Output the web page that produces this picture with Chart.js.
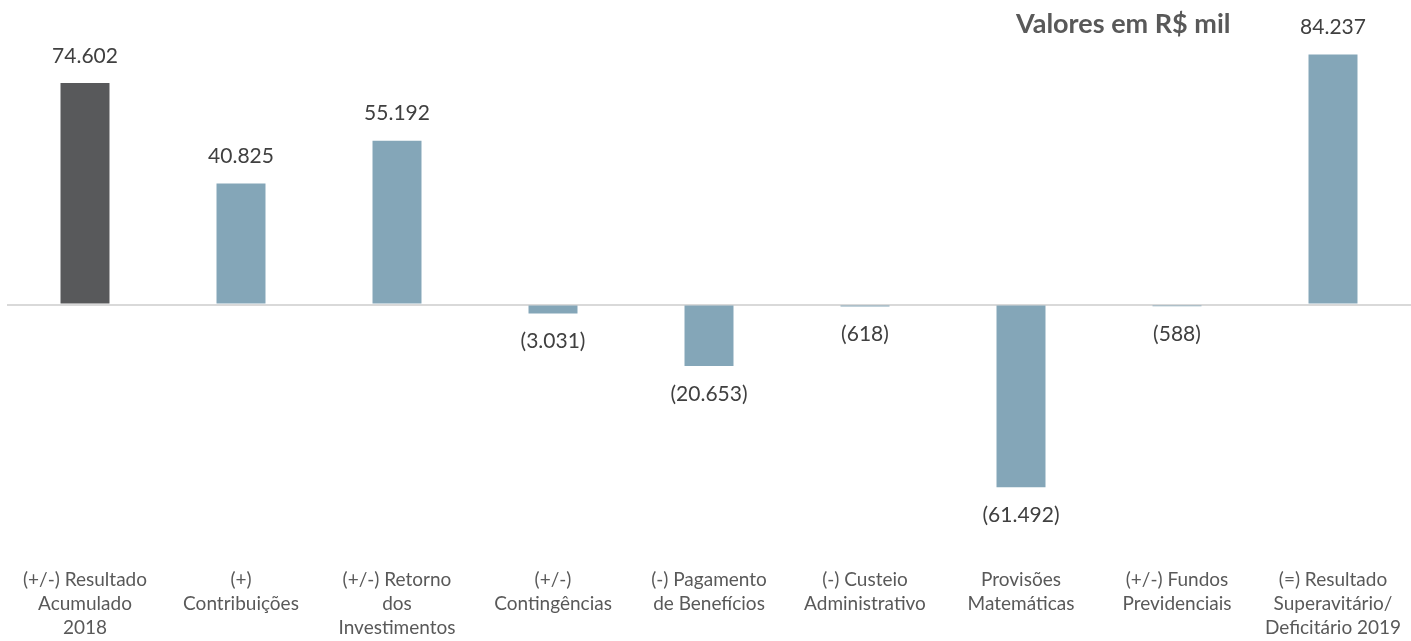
<!DOCTYPE html>
<html>
<head>
<meta charset="utf-8">
<script src="https://cdn.jsdelivr.net/npm/chart.js@4"></script>
<style>
  html, body { margin: 0; padding: 0; background: #fff; }
  #wrap { width: 1411px; height: 641px; position: relative; }
</style>
</head>
<body>
<div id="wrap"><canvas id="chart"></canvas></div>
<script>
const categories = [
  ["(+/-) Resultado", "Acumulado", "2018"],
  ["(+)", "Contribuições"],
  ["(+/-) Retorno", "dos", "Investimentos"],
  ["(+/-)", "Contingências"],
  ["(-) Pagamento", "de Benefícios"],
  ["(-) Custeio", "Administrativo"],
  ["Provisões", "Matemáticas"],
  ["(+/-) Fundos", "Previdenciais"],
  ["(=) Resultado", "Superavitário/", "Deficitário 2019"],
];
const values = [74602, 40825, 55192, -3031, -20653, -618, -61492, -588, 84237];
const barColors = ["#58595b", "#84a6b8", "#84a6b8", "#84a6b8", "#84a6b8", "#84a6b8", "#84a6b8", "#84a6b8", "#84a6b8"];
const unitTitle = "Valores em R$ mil";

const fontFamily = "Lato, 'Open Sans', sans-serif";

// format like 74.602 or (3.031)
function fmt(v) {
  const s = Math.abs(v).toLocaleString("pt-BR");
  return v < 0 ? "(" + s + ")" : s;
}

// value labels + unit title
const labelPlugin = {
  id: "labels",
  afterDatasetsDraw(chart) {
    const ctx = chart.ctx;
    const meta = chart.getDatasetMeta(0);
    ctx.save();
    ctx.font = "21px " + fontFamily;
    ctx.fillStyle = "#404040";
    ctx.textAlign = "center";
    ctx.textBaseline = "middle";
    meta.data.forEach((bar, i) => {
      const v = values[i];
      const y = v >= 0 ? Math.min(bar.y, bar.base) - 27 : Math.max(bar.y, bar.base) + 28;
      ctx.fillText(fmt(v), bar.x, y);
    });
    ctx.font = "bold 27px " + fontFamily;
    ctx.fillStyle = "#595959";
    ctx.textAlign = "left";
    ctx.fillText(unitTitle, 1016, 24);
    ctx.restore();
  },
};

new Chart(document.getElementById("chart"), {
  type: "bar",
  data: {
    labels: categories,
    datasets: [
      {
        data: values,
        backgroundColor: barColors,
        barPercentage: 0.314,
        categoryPercentage: 1,
      },
    ],
  },
  options: {
    responsive: true,
    maintainAspectRatio: false,
    animation: false,
    layout: { padding: { top: 8, left: 7, right: 0, bottom: 0 } },
    plugins: {
      legend: { display: false },
      tooltip: { enabled: false },
    },
    scales: {
      x: {
        grid: { display: false },
        border: { display: false },
        ticks: {
          color: "#595959",
          font: { family: fontFamily, size: 19, lineHeight: "24px" },
          padding: 1,
          maxRotation: 0,
          autoSkip: false,
        },
      },
      y: {
        min: -85700,
        max: 99900,
        ticks: { display: false },
        border: { display: false },
        grid: {
          drawTicks: false,
          lineWidth: 2,
          color: (c) => (c.tick && c.tick.value === 0 ? "#d9d9d9" : "transparent"),
        },
      },
    },
  },
  plugins: [labelPlugin],
});
</script>
</body>
</html>
